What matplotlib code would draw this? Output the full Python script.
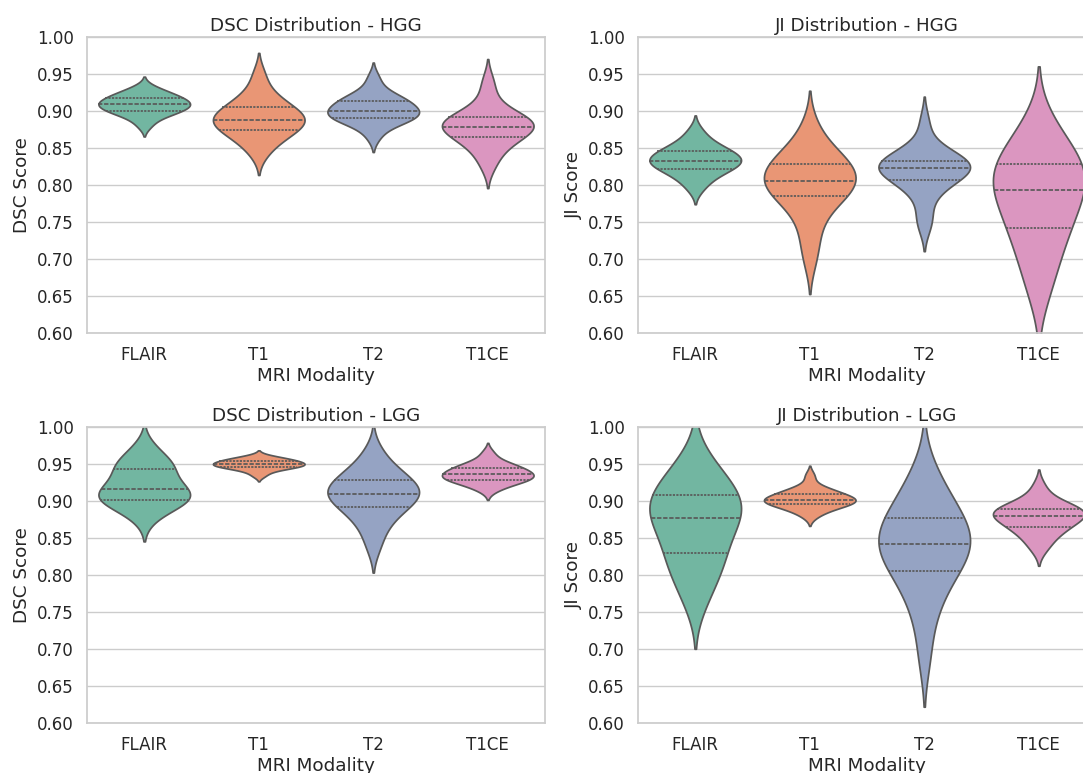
import pandas as pd
import numpy as np
import matplotlib
matplotlib.use('Agg')
import matplotlib.pyplot as plt
import seaborn as sns

# modalities
modalities = ['FLAIR', 'T1', 'T2', 'T1CE']

# DSC scores - HGG (per case)
dsc_hgg_flair = [0.880, 0.889, 0.894, 0.897, 0.899, 0.901, 0.903, 0.905, 0.907, 0.908,
                 0.910, 0.911, 0.913, 0.915, 0.917, 0.919, 0.921, 0.924, 0.927, 0.932]
dsc_hgg_t1 = [0.842, 0.855, 0.862, 0.868, 0.872, 0.875, 0.879, 0.883, 0.886, 0.888,
              0.889, 0.892, 0.896, 0.900, 0.904, 0.907, 0.912, 0.920, 0.930, 0.950]
dsc_hgg_t2 = [0.865, 0.878, 0.884, 0.887, 0.889, 0.891, 0.893, 0.896, 0.898, 0.899,
              0.901, 0.904, 0.907, 0.910, 0.913, 0.916, 0.918, 0.921, 0.930, 0.945]
dsc_hgg_t1ce = [0.825, 0.840, 0.850, 0.857, 0.862, 0.866, 0.870, 0.874, 0.877, 0.878,
                0.880, 0.882, 0.885, 0.888, 0.891, 0.893, 0.897, 0.905, 0.921, 0.941]

# JI scores - HGG
ji_hgg_flair = [0.795, 0.805, 0.812, 0.817, 0.820, 0.823, 0.826, 0.829, 0.831, 0.832,
                0.834, 0.836, 0.839, 0.842, 0.845, 0.847, 0.850, 0.855, 0.862, 0.873]
ji_hgg_t1 = [0.700, 0.727, 0.750, 0.768, 0.780, 0.786, 0.790, 0.795, 0.800, 0.804,
             0.808, 0.812, 0.817, 0.822, 0.828, 0.832, 0.838, 0.845, 0.856, 0.880]
ji_hgg_t2 = [0.745, 0.760, 0.785, 0.795, 0.803, 0.808, 0.812, 0.816, 0.820, 0.822,
             0.824, 0.826, 0.828, 0.830, 0.832, 0.835, 0.840, 0.846, 0.855, 0.885]
ji_hgg_t1ce = [0.650, 0.680, 0.700, 0.718, 0.735, 0.745, 0.756, 0.768, 0.780, 0.790,
               0.796, 0.803, 0.810, 0.818, 0.826, 0.833, 0.842, 0.852, 0.867, 0.890]

# DSC scores - LGG
dsc_lgg_flair = [0.875, 0.888, 0.894, 0.897, 0.900, 0.902, 0.905, 0.908, 0.912, 0.915,
                 0.918, 0.922, 0.928, 0.935, 0.942, 0.946, 0.950, 0.955, 0.962, 0.975]
dsc_lgg_t1 = [0.934, 0.939, 0.942, 0.944, 0.945, 0.946, 0.947, 0.948, 0.949, 0.949,
              0.950, 0.951, 0.952, 0.953, 0.954, 0.955, 0.956, 0.957, 0.959, 0.961]
dsc_lgg_t2 = [0.838, 0.858, 0.872, 0.880, 0.888, 0.893, 0.898, 0.903, 0.907, 0.909,
              0.911, 0.914, 0.918, 0.922, 0.927, 0.932, 0.936, 0.942, 0.952, 0.968]
dsc_lgg_t1ce = [0.915, 0.920, 0.924, 0.926, 0.928, 0.929, 0.931, 0.932, 0.934, 0.935,
                0.937, 0.938, 0.940, 0.942, 0.944, 0.946, 0.948, 0.951, 0.955, 0.965]

# JI scores - LGG
ji_lgg_flair = [0.760, 0.785, 0.800, 0.813, 0.824, 0.831, 0.845, 0.858, 0.868, 0.875,
                0.880, 0.886, 0.893, 0.900, 0.906, 0.912, 0.920, 0.930, 0.942, 0.960]
ji_lgg_t1 = [0.880, 0.886, 0.890, 0.892, 0.894, 0.896, 0.898, 0.899, 0.900, 0.901,
             0.902, 0.903, 0.905, 0.907, 0.909, 0.911, 0.913, 0.916, 0.920, 0.934]
ji_lgg_t2 = [0.690, 0.740, 0.765, 0.785, 0.800, 0.808, 0.818, 0.828, 0.836, 0.840,
             0.843, 0.850, 0.858, 0.866, 0.875, 0.882, 0.893, 0.905, 0.920, 0.945]
ji_lgg_t1ce = [0.835, 0.845, 0.853, 0.859, 0.863, 0.866, 0.870, 0.874, 0.877, 0.879,
               0.881, 0.883, 0.885, 0.887, 0.889, 0.891, 0.894, 0.898, 0.905, 0.920]


def to_long(lists):
    rows = []
    for mod, vals in zip(modalities, lists):
        for v in vals:
            rows.append((mod, v))
    return pd.DataFrame(rows, columns=['Modality', 'Score'])


panels = [
    ('DSC Distribution - HGG', 'DSC Score', [dsc_hgg_flair, dsc_hgg_t1, dsc_hgg_t2, dsc_hgg_t1ce]),
    ('JI Distribution - HGG', 'JI Score', [ji_hgg_flair, ji_hgg_t1, ji_hgg_t2, ji_hgg_t1ce]),
    ('DSC Distribution - LGG', 'DSC Score', [dsc_lgg_flair, dsc_lgg_t1, dsc_lgg_t2, dsc_lgg_t1ce]),
    ('JI Distribution - LGG', 'JI Score', [ji_lgg_flair, ji_lgg_t1, ji_lgg_t2, ji_lgg_t1ce]),
]

sns.set_theme(style='whitegrid')

fig = plt.figure(figsize=(10.83, 7.73), dpi=100)
W, H = 1083, 773
boxes = [(87, 37), (638, 37), (87, 427), (638, 427)]

for (title, ylab, lists), (px, py) in zip(panels, boxes):
    ax = fig.add_axes([px / W, 1 - (py + 296) / H, 458 / W, 296 / H])
    df = to_long(lists)
    sns.violinplot(data=df, x='Modality', y='Score', hue='Modality', order=modalities,
                   palette='Set2', inner='quart', density_norm='width', legend=False, ax=ax)
    ax.set_ylim(0.6, 1.0)
    ax.set_yticks(np.arange(0.60, 1.001, 0.05))
    ax.set_title(title, fontsize=13.2, pad=4)
    ax.set_xlabel('MRI Modality', fontsize=13.2, labelpad=2)
    ax.set_ylabel(ylab, fontsize=13.2, labelpad=4)
    ax.tick_params(labelsize=12)

plt.savefig('out.png', dpi=100)
